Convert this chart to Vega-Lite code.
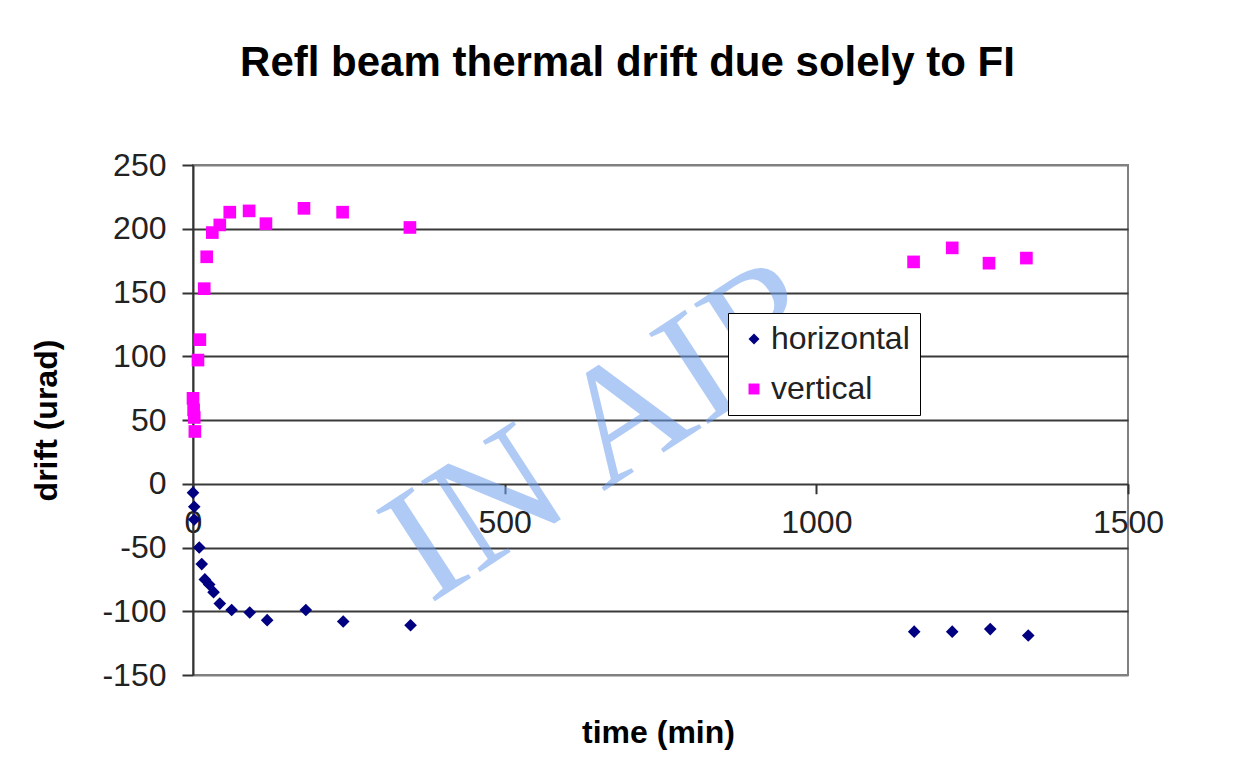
{
  "$schema": "https://vega.github.io/schema/vega-lite/v6.json",
  "width": 935,
  "height": 510,
  "autosize": {"type": "none"},
  "padding": {"left": 193, "top": 165, "right": 105, "bottom": 105},
  "background": "white",
  "config": {
    "view": {"stroke": "#808080", "strokeWidth": 2},
    "font": "Liberation Sans",
    "axis": {"labelFont": "Liberation Sans", "titleFont": "Liberation Sans"},
    "legend": {"labelFont": "Liberation Sans"}
  },
  "title": {
    "text": "Refl beam thermal drift due solely to FI",
    "font": "Liberation Sans",
    "fontSize": 42,
    "fontWeight": "bold",
    "color": "black",
    "anchor": "middle",
    "frame": "group",
    "dx": -33,
    "offset": 31,
    "baseline": "alphabetic"
  },
  "layer": [
    {
      "data": {"values": [{"time": 666, "drift": 43, "label": "IN AIR"}]},
      "mark": {
        "type": "text",
        "angle": 327,
        "font": "Liberation Serif",
        "fontSize": 165,
        "color": "#6FA0EE",
        "opacity": 0.55,
        "align": "center",
        "baseline": "middle"
      },
      "encoding": {
        "x": {"field": "time", "type": "quantitative"},
        "y": {"field": "drift", "type": "quantitative"},
        "text": {"field": "label"}
      }
    },
    {
      "data": {
        "values": [
          {"time": 0, "drift": 67, "series": "vertical"},
          {"time": 1, "drift": 58, "series": "vertical"},
          {"time": 2, "drift": 52, "series": "vertical"},
          {"time": 3, "drift": 41, "series": "vertical"},
          {"time": 8, "drift": 97, "series": "vertical"},
          {"time": 11, "drift": 113, "series": "vertical"},
          {"time": 18, "drift": 153, "series": "vertical"},
          {"time": 22, "drift": 178, "series": "vertical"},
          {"time": 31, "drift": 197, "series": "vertical"},
          {"time": 43, "drift": 203, "series": "vertical"},
          {"time": 59, "drift": 213, "series": "vertical"},
          {"time": 90, "drift": 214, "series": "vertical"},
          {"time": 117, "drift": 204, "series": "vertical"},
          {"time": 178, "drift": 216, "series": "vertical"},
          {"time": 240, "drift": 213, "series": "vertical"},
          {"time": 348, "drift": 201, "series": "vertical"},
          {"time": 1156, "drift": 174, "series": "vertical"},
          {"time": 1218, "drift": 185, "series": "vertical"},
          {"time": 1277, "drift": 173, "series": "vertical"},
          {"time": 1337, "drift": 177, "series": "vertical"},
          {"time": 0, "drift": -7, "series": "horizontal"},
          {"time": 2, "drift": -18, "series": "horizontal"},
          {"time": 2, "drift": -28, "series": "horizontal"},
          {"time": 10, "drift": -50, "series": "horizontal"},
          {"time": 14, "drift": -63, "series": "horizontal"},
          {"time": 19, "drift": -75, "series": "horizontal"},
          {"time": 26, "drift": -79, "series": "horizontal"},
          {"time": 33, "drift": -85, "series": "horizontal"},
          {"time": 43, "drift": -94, "series": "horizontal"},
          {"time": 62, "drift": -99, "series": "horizontal"},
          {"time": 91, "drift": -101, "series": "horizontal"},
          {"time": 119, "drift": -107, "series": "horizontal"},
          {"time": 181, "drift": -99, "series": "horizontal"},
          {"time": 241, "drift": -108, "series": "horizontal"},
          {"time": 349, "drift": -111, "series": "horizontal"},
          {"time": 1157, "drift": -116, "series": "horizontal"},
          {"time": 1218, "drift": -116, "series": "horizontal"},
          {"time": 1279, "drift": -114, "series": "horizontal"},
          {"time": 1340, "drift": -119, "series": "horizontal"}
        ]
      },
      "mark": {"type": "point", "filled": true, "opacity": 1, "size": 160, "strokeWidth": 0},
      "encoding": {
        "x": {
          "field": "time",
          "type": "quantitative",
          "scale": {"domain": [0, 1500], "nice": false, "zero": false},
          "axis": {
            "title": "time (min)",
            "values": [0, 500, 1000, 1500],
            "labelExpr": "'' + datum.value",
            "grid": false,
            "domain": false,
            "offset": -191.25,
            "tickSize": 10,
            "tickColor": "#333333",
            "tickWidth": 2,
            "labelFontSize": 32,
            "labelPadding": 14,
            "labelColor": "#222222",
            "labelFlush": false,
            "labelOverlap": false,
            "titleFontSize": 32,
            "titleFontWeight": "bold",
            "titleColor": "black",
            "titleX": 465,
            "titleY": 259,
            "titleAlign": "center",
            "titleBaseline": "alphabetic"
          }
        },
        "y": {
          "field": "drift",
          "type": "quantitative",
          "scale": {"domain": [-150, 250], "nice": false, "zero": false},
          "axis": {
            "title": "drift (urad)",
            "values": [-150, -100, -50, 0, 50, 100, 150, 200, 250],
            "labelExpr": "'' + datum.value",
            "labelFontSize": 32,
            "labelPadding": 16,
            "labelColor": "#222222",
            "tickSize": 11,
            "tickColor": "#333333",
            "tickWidth": 2,
            "domainColor": "#333333",
            "domainWidth": 2,
            "gridColor": {"condition": {"test": "datum.value == 250 || datum.value == -150", "value": "#808080"}, "value": "#3a3a3a"},
            "gridWidth": 2,
            "titleFontSize": 32,
            "titleFontWeight": "bold",
            "titleColor": "black",
            "titleAngle": 270,
            "titleX": -147,
            "titleY": 255,
            "titleAlign": "center",
            "titleBaseline": "middle"
          }
        },
        "color": {
          "field": "series",
          "type": "nominal",
          "scale": {"domain": ["horizontal", "vertical"], "range": ["#000080", "#FF00FF"]},
          "legend": {
            "title": null,
            "orient": "none",
            "legendX": 535,
            "legendY": 148,
            "labelFontSize": 32,
            "labelColor": "#222222",
            "strokeColor": "black",
            "fillColor": "white",
            "padding": 10,
            "rowPadding": 18,
            "labelOffset": 1,
            "symbolSize": 120
          }
        },
        "shape": {
          "field": "series",
          "type": "nominal",
          "scale": {"domain": ["horizontal", "vertical"], "range": ["diamond", "square"]},
          "legend": {
            "title": null,
            "orient": "none",
            "legendX": 535,
            "legendY": 148,
            "labelFontSize": 32,
            "labelColor": "#222222",
            "strokeColor": "black",
            "fillColor": "white",
            "padding": 10,
            "rowPadding": 18,
            "labelOffset": 1,
            "symbolSize": 120
          }
        }
      }
    }
  ]
}
